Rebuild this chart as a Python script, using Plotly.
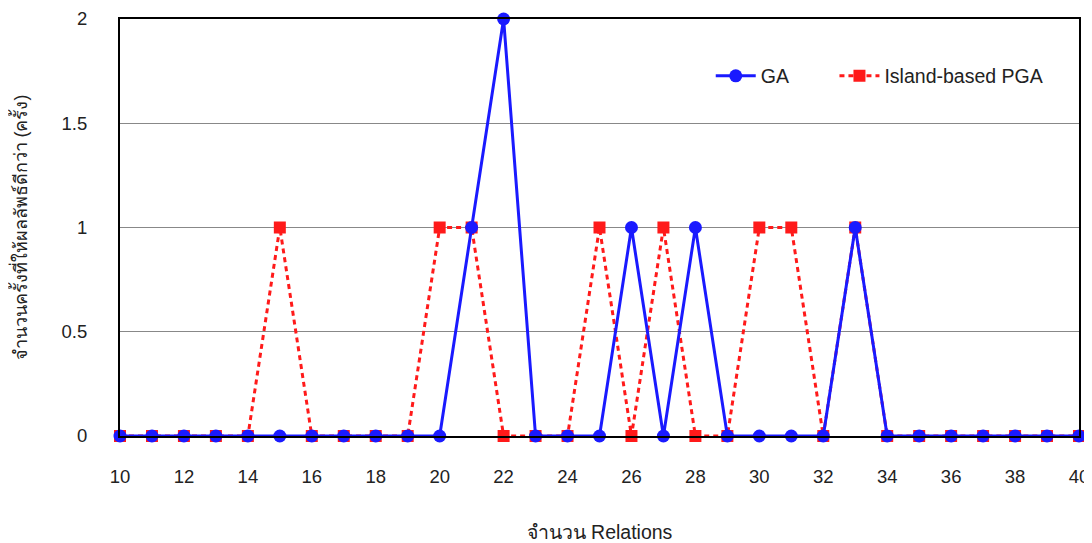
import plotly.graph_objects as go

relations = list(range(10, 41))
ga = [0, 0, 0, 0, 0, 0, 0, 0, 0, 0, 0, 1, 2, 0, 0, 0, 1, 0, 1, 0, 0, 0, 0, 1, 0, 0, 0, 0, 0, 0, 0]
pga = [0, 0, 0, 0, 0, 1, 0, 0, 0, 0, 1, 1, 0, 0, 0, 1, 0, 1, 0, 0, 1, 1, 0, 1, 0, 0, 0, 0, 0, 0, 0]
x_ticks = list(range(10, 41, 2))
y_ticks = [0, 0.5, 1, 1.5, 2]

font = "Liberation Sans, Arial, sans-serif"

fig = go.Figure()
fig.add_trace(go.Scatter(
    x=relations, y=pga, name="Island-based PGA", mode="lines+markers",
    line=dict(color="#ff1a1a", width=3, dash="5px,4px"),
    marker=dict(symbol="square", size=12, color="#ff1a1a"),
    cliponaxis=False, legend="legend2",
))
fig.add_trace(go.Scatter(
    x=relations, y=ga, name="GA", mode="lines+markers",
    line=dict(color="#1a1aff", width=3),
    marker=dict(symbol="circle", size=13, color="#1a1aff"),
    cliponaxis=False, legend="legend",
))

leg_common = dict(orientation="h", yanchor="middle", xanchor="left", y=0.863,
                  bgcolor="rgba(0,0,0,0)", font=dict(size=19.5), itemwidth=40)

fig.update_layout(
    template="none",
    width=1084, height=535,
    margin=dict(l=112, r=13, t=11, b=107),
    paper_bgcolor="white", plot_bgcolor="white",
    font=dict(family=font, size=19, color="#222"),
    showlegend=True,
    legend=dict(x=0.616, **leg_common),
    legend2=dict(x=0.745, **leg_common),
    xaxis=dict(range=[10, 40], tickvals=x_ticks, showgrid=False, zeroline=False,
               showline=True, linecolor="black", linewidth=2, mirror=True,
               ticks="", ticklabelstandoff=23, automargin=False,
               tickfont=dict(size=18.5),
               title=dict(text="จำนวน Relations", standoff=46, font=dict(size=19.5))),
    yaxis=dict(range=[0, 2], tickvals=y_ticks, ticktext=["0", "0.5", "1", "1.5", "2"],
               showgrid=True, gridcolor="#888", gridwidth=1, zeroline=False,
               showline=True, linecolor="black", linewidth=2, mirror=True,
               ticks="", ticklabelstandoff=27, automargin=False,
               tickfont=dict(size=18.5),
               title=dict(text="จำนวนครั้งที่ให้ผลลัพธ์ดีกว่า (ครั้ง)", standoff=30, font=dict(size=18))),
)

fig.write_html("out.html")
